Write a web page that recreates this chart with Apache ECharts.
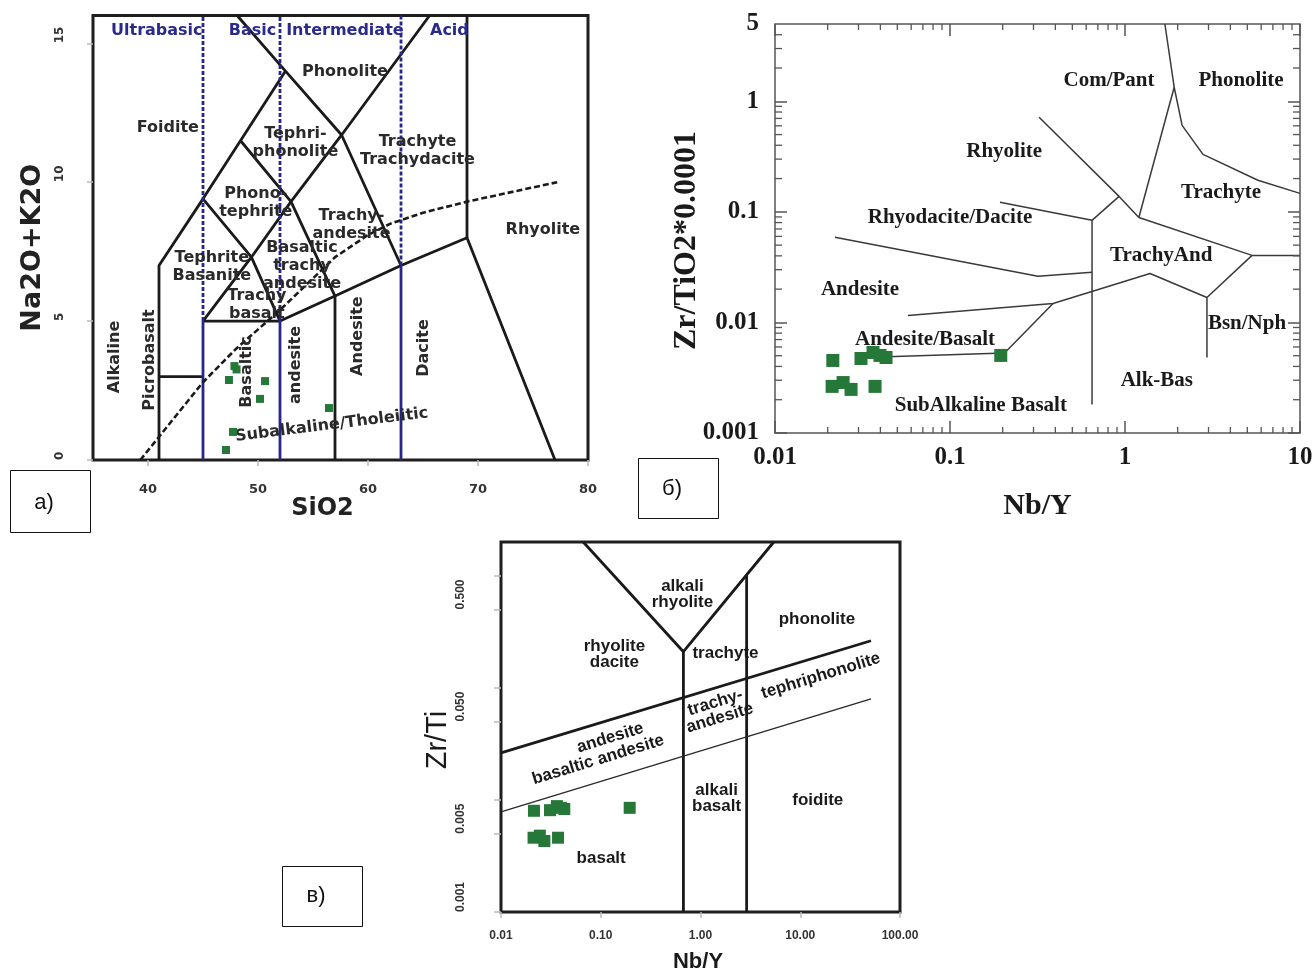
<!DOCTYPE html>
<html><head><meta charset="utf-8">
<script src="https://cdn.jsdelivr.net/npm/echarts@6/dist/echarts.min.js"></script>
<style>html,body{margin:0;padding:0;background:#fff}#c{width:1315px;height:974px}</style>
</head><body><div id="c"></div>
<script>
// ================= Panel а : TAS (SiO2 vs Na2O+K2O) =================
const tasXTicks = [40, 50, 60, 70, 80];
const tasYTicks = [0, 5, 10, 15];
const tasSiO2 = [47.86, 48.05, 47.36, 50.64, 50.18, 47.73, 47.09, 56.45];
const tasAlk  = [3.38, 3.26, 2.88, 2.84, 2.20, 1.01, 0.36, 1.87];
const tasFieldLines = [
  [[41,0],[41,7],[45,9.4],[52.5,14]],
  [[48.1,16],[52.5,14],[57.6,11.7],[63,7],[69,8],[77,0]],
  [[41,3],[45,3]],
  [[45,5],[52,5],[57,5.9],[63,7]],
  [[45,9.4],[49.4,7.3],[52,5]],
  [[45,5],[49.4,7.3],[53,9.3],[57.6,11.7],[65.6,16]],
  [[48.4,11.5],[53,9.3],[57,5.9]],
  [[57,0],[57,5.9]],
  [[69,8],[69,16]]
];
const tasDivSolid = [[[45,0],[45,5]], [[52,0],[52,5]], [[63,0],[63,7]]];
const tasDivDashed = [[[45,5],[45,16]], [[52,5],[52,16]], [[63,7],[63,16]]];
const tasAlkalineLine = [[39.3,0],[45,2.8],[48,4.0],[52,5.4],[57,7.3],[60,8.1],[62,8.5],[65,8.9],[69,9.3],[77.2,10]];
const tasGroupLabels = [['Ultrabasic',40.8,15.44],['Basic',49.5,15.44],['Intermediate',57.9,15.44],['Acid',67.4,15.44]];
const tasFieldLabels = [
  ['Phonolite',57.9,13.97],['Foidite',41.8,11.95],['Tephri-\nphonolite',53.4,11.41],
  ['Trachyte\nTrachydacite',64.5,11.14],['Phono-\ntephrite',49.8,9.25],['Trachy-\nandesite',58.5,8.46],
  ['Rhyolite',75.9,8.28],['Basaltic\ntrachy\nandesite',54.0,6.98],['Tephrite\nBasanite',45.8,6.97],
  ['Trachy\nbasalt',49.9,5.60],['Alkaline',37.0,3.71,90],['Picrobasalt',40.2,3.6,90],
  ['Basaltic',49.0,3.17,90],['andesite',53.4,3.42,90],['Andesite',59.1,4.46,90],['Dacite',65.1,4.03,90],
  ['Subalkaline/Tholeiitic',56.7,1.26,7]
];

// ================= Samples (Nb/Y shared by panels б and в) =================
const nbY = [0.0214, 0.031, 0.0363, 0.0398, 0.0431, 0.195, 0.0212, 0.0245, 0.0272, 0.0373];
const zrTiO2 = [0.00453, 0.00472, 0.00535, 0.00503, 0.00482, 0.00503, 0.00264, 0.00286, 0.00248, 0.00264];
const zrTi = [0.0080, 0.0081, 0.0088, 0.0085, 0.0083, 0.0085, 0.0046, 0.0048, 0.0043, 0.0046];

// ================= Panel б : Winchester & Floyd =================
const wfXTicks = [0.01, 0.1, 1, 10];
const wfYTicks = [0.001, 0.01, 0.1, 1];
const wfYLabels = [0.001, 0.01, 0.1, 1, 5];
const wfLines = [
  [[1.69,5],[1.91,1.34],[2.12,0.606],[2.79,0.331],[5.75,0.193],[10,0.147]],
  [[1.91,1.34],[1.20,0.089]],
  [[0.323,0.717],[0.925,0.138],[1.20,0.089]],
  [[0.925,0.138],[0.648,0.0838]],
  [[0.193,0.122],[0.648,0.0838],[0.648,0.00181]],
  [[1.20,0.089],[5.32,0.0404],[10,0.0404]],
  [[5.32,0.0404],[2.94,0.0168],[2.94,0.00482]],
  [[2.94,0.0168],[1.39,0.0277],[0.388,0.01486],[0.0575,0.01157]],
  [[0.388,0.01486],[0.205,0.0053],[0.0437,0.0049]],
  [[0.022,0.0588],[0.318,0.0261],[0.648,0.0284]]
];
const wfLabels = [
  ['Com/Pant',0.81,1.55],['Phonolite',4.6,1.55],['Rhyolite',0.204,0.353],['Trachyte',3.54,0.150],
  ['Rhyodacite/Dacite',0.1,0.0892],['TrachyAnd',1.61,0.0404],['Andesite',0.0306,0.0199],
  ['Andesite/Basalt',0.072,0.00702],['Bsn/Nph',4.98,0.0098],['Alk-Bas',1.52,0.00299],
  ['SubAlkaline Basalt',0.150,0.00177]
];

// ================= Panel в : Pearce (1996) =================
const pXTicks = [0.01, 0.1, 1, 10, 100];
const pYTicks = [0.001, 0.005, 0.01, 0.05, 0.1, 0.5, 1];
const pYLabels = [0.001, 0.005, 0.05, 0.5];
const pThickLines = [
  [[0.0667,2],[0.674,0.21],[5.42,2]],
  [[0.674,0.21],[0.674,0.001]],
  [[2.9,1.01],[2.9,0.001]],
  [[0.01,0.0263],[51.2,0.263]]
];
const pThinLines = [[[0.01,0.00781],[51.2,0.0797]]];
const pLabels = [
  ['alkali\nrhyolite',0.659,0.676],['rhyolite\ndacite',0.137,0.199],['phonolite',14.7,0.405],
  ['trachyte',1.78,0.205],['tephriphonolite',16.1,0.128,17],['trachy-\nandesite',1.48,0.063,17],
  ['andesite',0.1246,0.0358,17],['basaltic andesite',0.0944,0.0228,17],['alkali\nbasalt',1.45,0.0103],
  ['foidite',15.0,0.01],['basalt',0.101,0.00303]
];

// ================= helpers =================
const FA = "'DejaVu Sans', sans-serif";
const FB = "'Liberation Serif', 'Times New Roman', serif";
const FC = "'Liberation Sans', Arial, sans-serif";
const PT = '#267838';
const zip = (a, b) => a.map((v, i) => [v, b[i]]);
const fmtLog = v => String(parseFloat(Number(v).toPrecision(6)));

function lines(list, xi, yi, style, z) {
  return list.map(d => ({type:'line', xAxisIndex:xi, yAxisIndex:yi, data:d, symbol:'none',
    silent:true, animation:false, clip:false, lineStyle:Object.assign({opacity:1}, style), z:z||3}));
}
function labels(list, xi, yi, font) {
  return {type:'scatter', xAxisIndex:xi, yAxisIndex:yi, symbolSize:1, silent:true, animation:false, z:5,
    itemStyle:{color:'#fff', opacity:0},
    data:list.map(it => ({value:[it[1], it[2]], label:{formatter:it[0], rotate:it[3]||0}})),
    label:Object.assign({show:true, position:'inside', fontWeight:'bold', opacity:1}, font)};
}
function points(xi, yi, data, size) {
  return {type:'scatter', xAxisIndex:xi, yAxisIndex:yi, symbol:'rect', symbolSize:size,
    itemStyle:{color:PT, opacity:1}, z:6, animation:false, data:data};
}

// minor ticks for panel б (log decades)
const minorItems = [];
[0.01, 0.1, 1].forEach(d => { for (let k = 2; k <= 9; k++) minorItems.push([d*k, 0.001, 0]); });
[0.001, 0.01, 0.1].forEach(d => { for (let k = 2; k <= 9; k++) minorItems.push([0.01, d*k, 1]); });
[2, 3, 4].forEach(k => minorItems.push([0.01, k, 1]));

const chart = echarts.init(document.getElementById('c'), null, {width:1315, height:974});

const option = {
  animation:false,
  backgroundColor:'#fff',
  grid:[
    {left:93, top:15.5, width:495, height:444.5, show:true, borderColor:'#1e1e1e', borderWidth:3, backgroundColor:'transparent', containLabel:false, outerBoundsMode:'none'},
    {left:775, top:24, width:525, height:409, show:true, borderColor:'#555', borderWidth:1.5, backgroundColor:'transparent', containLabel:false, outerBoundsMode:'none'},
    {left:501, top:542, width:399, height:370, show:true, borderColor:'#1e1e1e', borderWidth:3, backgroundColor:'transparent', containLabel:false, outerBoundsMode:'none'}
  ],
  xAxis:[
    {gridIndex:0, type:'value', min:35, max:80, splitLine:{show:false}, axisLine:{show:false},
     axisTick:{show:true, customValues:tasXTicks, length:6, lineStyle:{color:'#bbb', width:1.5}},
     axisLabel:{customValues:tasXTicks, margin:23, fontFamily:FA, fontWeight:'bold', fontSize:13, color:'#333'},
     name:'SiO2', nameLocation:'middle', nameGap:37, nameMoveOverlap:false,
     nameTextStyle:{fontFamily:FA, fontWeight:'bold', fontSize:24, color:'#222', padding:[0,36,0,0]}},
    {gridIndex:1, type:'log', logBase:10, min:0.01, max:10, splitLine:{show:false}, axisLine:{show:false},
     axisTick:{show:true, inside:true, customValues:wfXTicks, length:12, lineStyle:{color:'#555', width:1.5}},
     axisLabel:{customValues:wfXTicks, formatter:fmtLog, margin:12, fontFamily:FB, fontWeight:'bold', fontSize:25, color:'#1a1a1a'},
     name:'Nb/Y', nameLocation:'middle', nameGap:58, nameMoveOverlap:false,
     nameTextStyle:{fontFamily:FB, fontWeight:'bold', fontSize:30, color:'#1a1a1a'}},
    {gridIndex:1, type:'log', logBase:10, min:0.01, max:10, position:'top', splitLine:{show:false}, axisLine:{show:false},
     axisTick:{show:true, inside:true, customValues:wfXTicks, length:12, lineStyle:{color:'#555', width:1.5}},
     axisLabel:{show:false}},
    {gridIndex:2, type:'log', logBase:10, min:0.01, max:100, splitLine:{show:false}, axisLine:{show:false},
     axisTick:{show:true, customValues:pXTicks, length:6, lineStyle:{color:'#bbb', width:1.5}},
     axisLabel:{customValues:pXTicks, formatter:v => Number(v).toFixed(2), margin:18, fontFamily:FC, fontWeight:'bold', fontSize:12, color:'#333'},
     name:'Nb/Y', nameLocation:'middle', nameGap:39, nameMoveOverlap:false,
     nameTextStyle:{fontFamily:FC, fontWeight:'bold', fontSize:22, color:'#1a1a1a', padding:[0,5,0,0]}}
  ],
  yAxis:[
    {gridIndex:0, type:'value', min:0, max:16, splitLine:{show:false}, axisLine:{show:false},
     axisTick:{show:true, customValues:tasYTicks, length:6, lineStyle:{color:'#bbb', width:1.5}},
     axisLabel:{customValues:tasYTicks, rotate:90, align:'left', verticalAlign:'middle', margin:33,
       fontFamily:FA, fontWeight:'bold', fontSize:12, color:'#333'},
     name:'Na2O+K2O', nameLocation:'middle', nameGap:47, nameMoveOverlap:false,
     nameTextStyle:{fontFamily:FA, fontWeight:'bold', fontSize:27, color:'#222', padding:[0,20,0,0]}},
    {gridIndex:1, type:'log', logBase:10, min:0.001, max:5, splitLine:{show:false}, axisLine:{show:false},
     axisTick:{show:true, inside:true, customValues:wfYTicks, length:12, lineStyle:{color:'#555', width:1.5}},
     axisLabel:{customValues:wfYLabels, formatter:fmtLog, margin:16, fontFamily:FB, fontWeight:'bold', fontSize:25, color:'#1a1a1a'},
     name:'Zr/TiO2*0.0001', nameLocation:'middle', nameGap:72, nameMoveOverlap:false,
     nameTextStyle:{fontFamily:FB, fontWeight:'bold', fontSize:32, color:'#1a1a1a', padding:[0,24,0,0]}},
    {gridIndex:1, type:'log', logBase:10, min:0.001, max:5, position:'right', splitLine:{show:false}, axisLine:{show:false},
     axisTick:{show:true, inside:true, customValues:wfYTicks, length:12, lineStyle:{color:'#555', width:1.5}},
     axisLabel:{show:false}},
    {gridIndex:2, type:'log', logBase:10, min:0.001, max:2, splitLine:{show:false}, axisLine:{show:false},
     axisTick:{show:true, customValues:pYTicks, length:7, lineStyle:{color:'#bbb', width:1.5}},
     axisLabel:{customValues:pYLabels, formatter:v => Number(v).toFixed(3), rotate:90, align:'left', verticalAlign:'middle', margin:40,
       fontFamily:FC, fontWeight:'bold', fontSize:12, color:'#333'},
     name:'Zr/Ti', nameLocation:'middle', nameGap:49, nameMoveOverlap:false,
     nameTextStyle:{fontFamily:FC, fontSize:29, color:'#1a1a1a', padding:[0,26,0,0]}}
  ],
  series:[].concat(
    // panel а
    lines(tasFieldLines, 0, 0, {color:'#1a1a1a', width:2.8}, 3),
    lines(tasDivSolid, 0, 0, {color:'#27278a', width:2.8}, 4),
    lines(tasDivDashed, 0, 0, {color:'#27278a', width:2.8, type:[4,2]}, 4),
    lines([tasAlkalineLine], 0, 0, {color:'#1a1a1a', width:2.6, type:[6,3]}, 4),
    [labels(tasGroupLabels, 0, 0, {fontFamily:FA, fontSize:16, color:'#2a2a8c'}),
     labels(tasFieldLabels, 0, 0, {fontFamily:FA, fontSize:16, color:'#2a2a2a', lineHeight:18}),
     points(0, 0, zip(tasSiO2, tasAlk), 8)],
    // panel б
    lines(wfLines, 1, 1, {color:'#3a3a3a', width:1.5}, 3),
    [{type:'custom', xAxisIndex:1, yAxisIndex:1, silent:true, animation:false, clip:false, z:4,
      dimensions:['x','y','kind'], encode:{x:0, y:1}, data:minorItems,
      renderItem:function(params, api){
        const kind = api.value(2);
        const st = {stroke:'#555', lineWidth:1.3};
        if (kind === 0) {
          const v = api.value(0);
          const a = api.coord([v, 0.001]), b = api.coord([v, 5]);
          return {type:'group', children:[
            {type:'line', shape:{x1:a[0], y1:a[1], x2:a[0], y2:a[1]-6}, style:st},
            {type:'line', shape:{x1:b[0], y1:b[1], x2:b[0], y2:b[1]+6}, style:st}]};
        }
        const v = api.value(1);
        const a = api.coord([0.01, v]), b = api.coord([10, v]);
        return {type:'group', children:[
          {type:'line', shape:{x1:a[0], y1:a[1], x2:a[0]+7, y2:a[1]}, style:st},
          {type:'line', shape:{x1:b[0], y1:b[1], x2:b[0]-7, y2:b[1]}, style:st}]};
      }},
     labels(wfLabels, 1, 1, {fontFamily:FB, fontSize:21, color:'#1a1a1a'}),
     points(1, 1, zip(nbY, zrTiO2), 13)],
    // panel в
    lines(pThickLines, 3, 3, {color:'#1a1a1a', width:2.8}, 3),
    lines(pThinLines, 3, 3, {color:'#2a2a2a', width:1.4}, 3),
    [labels(pLabels, 3, 3, {fontFamily:FC, fontSize:17, color:'#1a1a1a', lineHeight:16}),
     points(3, 3, zip(nbY, zrTi), 12)]
  ),
  graphic:[
    {type:'rect', shape:{x:10.5, y:470.5, width:80, height:62}, style:{fill:'#fff', stroke:'#111', lineWidth:1}},
    {type:'text', x:44, y:503, style:{text:'а)', fontSize:22, fontFamily:FC, fill:'#111', align:'center', verticalAlign:'middle', textAlign:'center', textVerticalAlign:'middle'}},
    {type:'rect', shape:{x:638.5, y:458.5, width:80, height:60}, style:{fill:'#fff', stroke:'#111', lineWidth:1}},
    {type:'text', x:672, y:489, style:{text:'б)', fontSize:22, fontFamily:FC, fill:'#111', align:'center', verticalAlign:'middle', textAlign:'center', textVerticalAlign:'middle'}},
    {type:'rect', shape:{x:282.5, y:866.5, width:80, height:60}, style:{fill:'#fff', stroke:'#111', lineWidth:1}},
    {type:'text', x:316, y:896, style:{text:'в)', fontSize:22, fontFamily:FC, fill:'#111', align:'center', verticalAlign:'middle', textAlign:'center', textVerticalAlign:'middle'}}
  ]
};
chart.setOption(option);
</script>
</body></html>
